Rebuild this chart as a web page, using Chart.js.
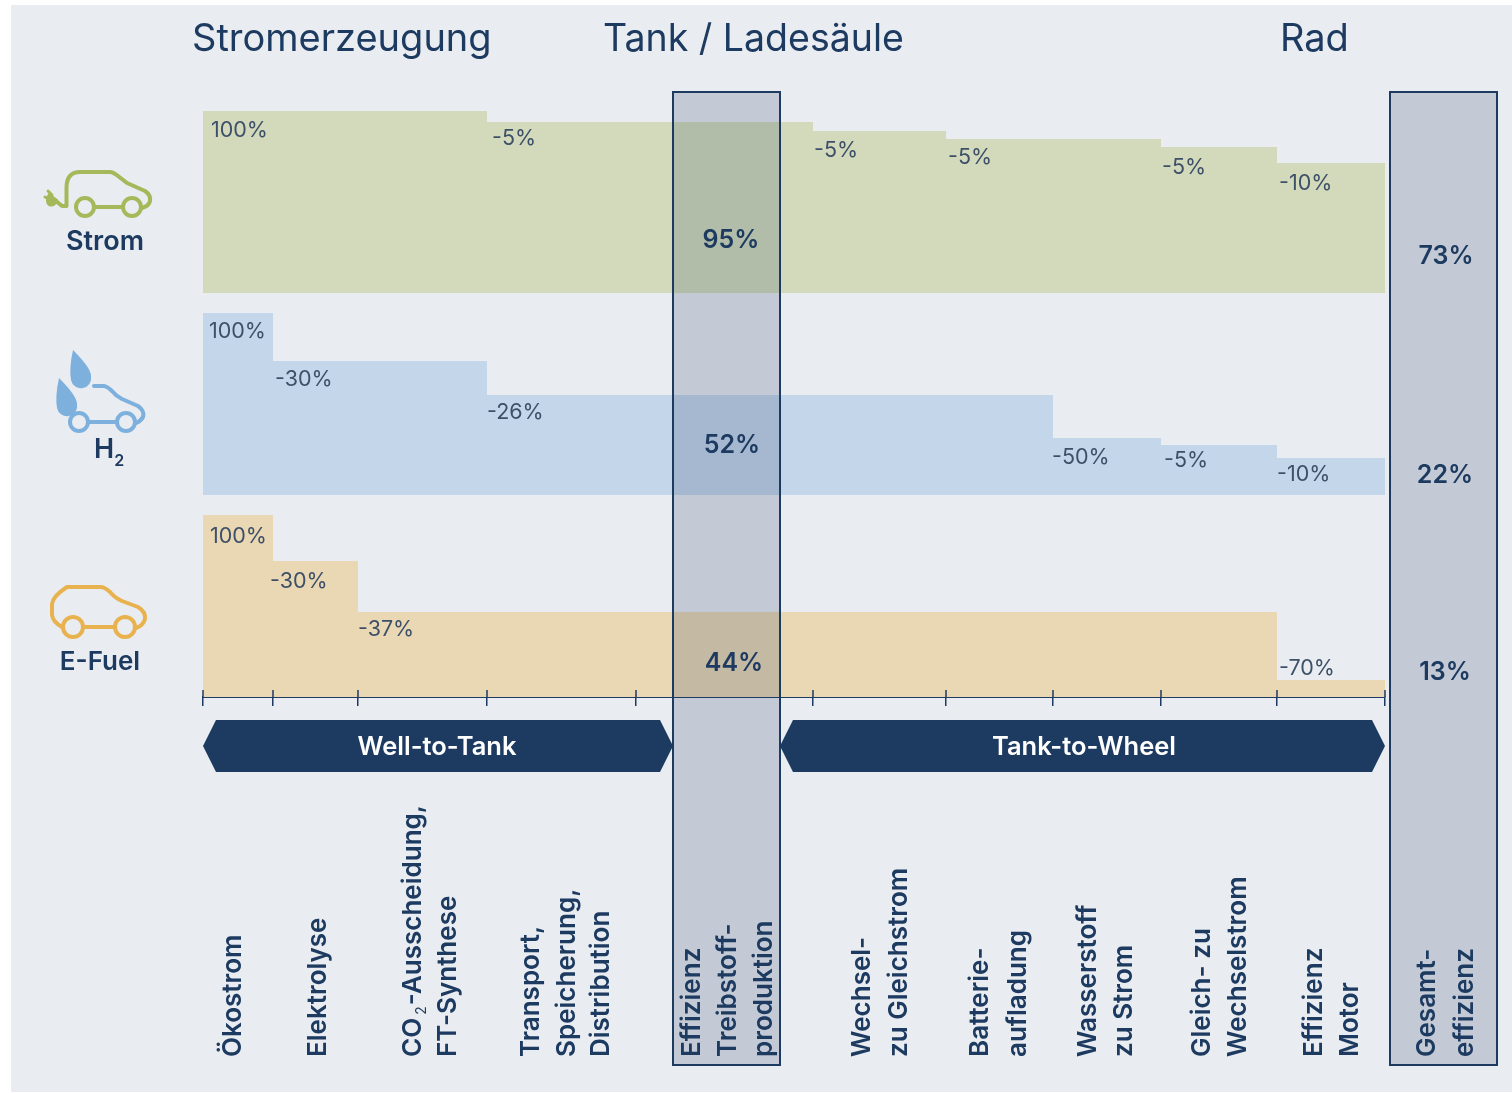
<!DOCTYPE html>
<html lang="de">
<head>
<meta charset="utf-8">
<title>Wirkungsgrade Strom, H2, E-Fuel</title>
<script src="https://cdn.jsdelivr.net/npm/chart.js@4/dist/chart.umd.min.js"></script>
<style>
    html, body { margin: 0; padding: 0; background: #fff; }
    #stage { position: relative; width: 1512px; height: 1093px; overflow: hidden; }
    canvas { display: block; }
    svg { position: absolute; left: 0; top: 0; pointer-events: none; }
</style>
</head>
<body>
<div id="stage">
    <canvas id="chart" width="1512" height="1093"></canvas>
    <svg width="1512" height="1093" fill="none" stroke-width="4" stroke-linecap="round" stroke-linejoin="round">
        <!-- Strom -->
        <g stroke="#a5b85a">
            <path d="M56 201 L62 206 L66.5 206 L66.5 187 Q67 172 80 172 L110 172 Q113 172 118 176 L127 183 L145 191 Q151 195 150 201 Q149 206 142 208"/>
            <circle cx="85" cy="207" r="9"/><circle cx="132" cy="207" r="9"/>
            <path d="M94 207 L123 207"/>
            <path d="M49 194 L57 200 Q55 207 49 205 Q45 202 49 194 Z" fill="#a5b85a" stroke-width="2"/>
            <path d="M45 197 L49 199 M48 191 L52 195" stroke-width="3"/>
        </g>
        <!-- H2 -->
        <g stroke="#7db0dc">
            <path d="M94 386 L103 386 Q107 386 112 391 Q116 396 122 399 L138 406 Q145 411 143 417 Q141 421 136 423"/>
            <circle cx="79" cy="422" r="9"/><circle cx="126" cy="422" r="9"/>
            <path d="M88 422 L117 422"/>
            <path d="M73 350 Q91 368 91 376 A10 10 0 0 1 71 380 Q69 368 73 350 Z" fill="#7db0dc" stroke="none"/>
            <path d="M59 378 Q77 396 77 404 A10 10 0 0 1 57 408 Q55 396 59 378 Z" fill="#7db0dc" stroke="none"/>
        </g>
        <!-- E-Fuel -->
        <g stroke="#e8b24f">
            <path d="M62 627 Q53 622 52 615 L52 604 Q53 596 67 587 L100 587 Q105 587 110 592 Q115 598 122 601 L138 607 Q146 612 145 619 Q143 626 136 628"/>
            <circle cx="73" cy="627" r="10"/><circle cx="125" cy="627" r="10"/>
            <path d="M83 627 L115 627"/>
        </g>
    </svg>
</div>
<script>
// Step edges along the x axis (one edge per process step, plus the end)
const stepEdges = [0, 70, 155, 284, 433, 610, 743, 850, 958, 1074, 1182];

// Remaining share per process step, as drawn in the picture
const stromValues = [100, 100, 100, 94, 94, 89, 84.6, 84.6, 80.2, 71.4];
const h2Values = [100, 73.6, 73.6, 55, 55, 55, 55, 31.3, 27.5, 20.3];
const efuelValues = [100, 74.7, 46.7, 46.7, 46.7, 46.7, 46.7, 46.7, 46.7, 9.3];

// Percent labels printed on the steps: [step index, text]
const stromLabels = [[0, '100%'], [3, '-5%'], [5, '-5%'], [6, '-5%'], [8, '-5%'], [9, '-10%']];
const h2Labels = [[0, '100%'], [1, '-30%'], [3, '-26%'], [7, '-50%'], [8, '-5%'], [9, '-10%']];
const efuelLabels = [[0, '100%'], [1, '-30%'], [2, '-37%'], [9, '-70%']];

const rowNames = ['Strom', 'H₂', 'E-Fuel'];
const tankEfficiency = ['95%', '52%', '44%'];
const totalEfficiency = ['73%', '22%', '13%'];
const columnTitles = ['Stromerzeugung', 'Tank / Ladesäule', 'Rad'];
const phaseNames = ['Well-to-Tank', 'Tank-to-Wheel'];

const stepNames = [
    ['Ökostrom'],
    ['Elektrolyse'],
    ['CO₂-Ausscheidung,', 'FT-Synthese'],
    ['Transport,', 'Speicherung,', 'Distribution'],
    ['Effizienz', 'Treibstoff-', 'produktion'],
    ['Wechsel-', 'zu Gleichstrom'],
    ['Batterie-', 'aufladung'],
    ['Wasserstoff', 'zu Strom'],
    ['Gleich- zu', 'Wechselstrom'],
    ['Effizienz', 'Motor'],
    ['Gesamt-', 'effizienz']
];

// Colours
const NAVY = '#1d3a60';
const TEXT_SOFT = '#3d5068';
const PANEL = '#e9ecf0';
const BAND = 'rgba(30, 58, 95, 0.19)';
const FONT = 'Inter, "Liberation Sans", sans-serif';

// Layout of the things around the plot
const plot = { left: 203, right: 1385, top: 91, bottom: 697 };
const tankBand = [470, 577];
const totalBand = [1187, 1294];
const bandTop = 92;
const bandBottom = 1065;
const arrowTop = 720;
const arrowBottom = 772;
const stepNameX = [
    [233], [318], [413, 448], [531, 567, 601], [692, 728, 764],
    [862, 899], [980, 1018], [1088, 1124], [1202, 1238], [1314, 1350], [1427, 1465]
];
// label offsets from the top-left corner of their step: [dx, dy]
const stromNudges = [[8, 20], [5, 17], [1, 19], [2, 18], [1, 20], [2, 20]];
const h2Nudges = [[6, 19], [2, 18], [0, 18], [-1, 19], [3, 16], [0, 16]];
const efuelNudges = [[7, 22], [-3, 20], [0, 18], [2, -12]];

function toPoints(values) {
    const points = values.map((v, i) => ({ x: stepEdges[i], y: v }));
    points.push({ x: stepEdges[stepEdges.length - 1], y: values[values.length - 1] });
    return points;
}

function rowDataset(label, values, colour, axis) {
    return {
        label: label,
        data: toPoints(values),
        yAxisID: axis,
        stepped: 'before',
        fill: { value: 0 },
        backgroundColor: colour,
        borderWidth: 0,
        pointRadius: 0
    };
}

function rowAxis(order) {
    return {
        display: false,
        stack: 'rows',
        stackWeight: 1,
        weight: order,
        min: 0,
        max: 111,
        afterFit: scale => { scale.width = 0; }
    };
}

function drawText(ctx, text, x, y, font, colour, align) {
    ctx.font = font;
    ctx.fillStyle = colour;
    ctx.textAlign = align || 'left';
    ctx.textBaseline = 'middle';
    ctx.fillText(text, x, y);
}

// Text with a lowered "2": the ₂ in the string marks where it goes
function drawWithSub(ctx, text, x, y, font, colour, sub) {
    const parts = text.split('₂');
    drawText(ctx, parts[0], x, y, font, colour);
    let cursor = x + ctx.measureText(parts[0]).width + sub.before;
    drawText(ctx, '2', cursor, y + sub.drop, sub.font, colour);
    cursor += ctx.measureText('2').width + sub.after;
    if (parts[1]) drawText(ctx, parts[1], cursor, y, font, colour);
}

// Everything that sits on top of the step areas
const overlayPlugin = {
    id: 'overlay',
    beforeDraw(chart) {
        const ctx = chart.ctx;
        ctx.save();
        ctx.fillStyle = PANEL;
        ctx.fillRect(11, 5, 1501, 1087);
        ctx.restore();
    },
    afterDraw(chart) {
        const ctx = chart.ctx;
        const x = chart.scales.x;
        ctx.save();

        // upper half of the axis ticks
        ctx.strokeStyle = NAVY;
        ctx.lineWidth = 1.5;
        stepEdges.forEach(edge => {
            const px = x.getPixelForValue(edge);
            ctx.beginPath();
            ctx.moveTo(px, plot.bottom - 7);
            ctx.lineTo(px, plot.bottom);
            ctx.stroke();
        });

        // translucent efficiency columns
        [tankBand, totalBand].forEach(band => {
            const x0 = x.getPixelForValue(band[0]);
            const x1 = x.getPixelForValue(band[1]);
            ctx.fillStyle = BAND;
            ctx.fillRect(x0, bandTop, x1 - x0, bandBottom - bandTop);
            ctx.strokeStyle = NAVY;
            ctx.lineWidth = 2;
            ctx.strokeRect(x0, bandTop, x1 - x0, bandBottom - bandTop);
        });

        // phase arrows
        const arrowY = (arrowTop + arrowBottom) / 2;
        [[0, tankBand[0]], [tankBand[1], stepEdges[stepEdges.length - 1]]].forEach((span, i) => {
            const x0 = x.getPixelForValue(span[0]);
            const x1 = x.getPixelForValue(span[1]);
            ctx.fillStyle = NAVY;
            ctx.beginPath();
            ctx.moveTo(x0, arrowY);
            ctx.lineTo(x0 + 13, arrowTop);
            ctx.lineTo(x1 - 13, arrowTop);
            ctx.lineTo(x1, arrowY);
            ctx.lineTo(x1 - 13, arrowBottom);
            ctx.lineTo(x0 + 13, arrowBottom);
            ctx.closePath();
            ctx.fill();
            const centre = i === 0 ? 437 : 1084;
            drawText(ctx, phaseNames[i], centre, arrowY + 1, '600 25.5px ' + FONT, '#ffffff', 'center');
        });

        // percent labels on the steps
        const rows = [
            [stromLabels, stromValues, chart.scales.yStrom, stromNudges],
            [h2Labels, h2Values, chart.scales.yH2, h2Nudges],
            [efuelLabels, efuelValues, chart.scales.yEfuel, efuelNudges]
        ];
        rows.forEach(row => {
            row[0].forEach((item, i) => {
                const step = item[0];
                const px = x.getPixelForValue(stepEdges[step]) + row[3][i][0];
                const py = row[2].getPixelForValue(row[1][step]) + row[3][i][1];
                drawText(ctx, item[1], px, py, '400 21.5px ' + FONT, TEXT_SOFT);
            });
        });

        // column values
        const tankX = [731, 732, 734];
        const tankY = [240, 445, 663];
        const totalX = [1446, 1445, 1445];
        const totalY = [256, 475, 672];
        tankEfficiency.forEach((text, i) => {
            drawText(ctx, text, tankX[i], tankY[i], '600 25px ' + FONT, NAVY, 'center');
        });
        totalEfficiency.forEach((text, i) => {
            drawText(ctx, text, totalX[i], totalY[i], '600 25px ' + FONT, NAVY, 'center');
        });

        // header
        const titleX = [192, 603, 1280];
        const titleSize = [38, 37.5, 38];
        columnTitles.forEach((text, i) => {
            drawText(ctx, text, titleX[i], 40, '400 ' + titleSize[i] + 'px ' + FONT, NAVY);
        });

        // fuel names below the icons
        drawText(ctx, rowNames[0], 105, 242, '600 27px ' + FONT, NAVY, 'center');
        drawWithSub(ctx, rowNames[1], 94, 450, '600 27px ' + FONT, NAVY,
            { before: 0, after: 0, drop: 11, font: '600 16px ' + FONT });
        drawText(ctx, rowNames[2], 100, 662, '600 26px ' + FONT, NAVY, 'center');

        // rotated step names
        const stepFont = '600 26px ' + FONT;
        stepNames.forEach((lines, i) => {
            lines.forEach((line, j) => {
                ctx.save();
                ctx.translate(stepNameX[i][j], 1057);
                ctx.rotate(-Math.PI / 2);
                if (line.includes('₂')) {
                    drawWithSub(ctx, line, 0, 0, stepFont, NAVY,
                        { before: 3, after: 1, drop: 9, font: '400 14px ' + FONT });
                } else {
                    drawText(ctx, line, 0, 0, stepFont, NAVY);
                }
                ctx.restore();
            });
        });

        ctx.restore();
    }
};

new Chart(document.getElementById('chart'), {
    type: 'line',
    data: {
        datasets: [
            rowDataset('Strom', stromValues, '#d3dabb', 'yStrom'),
            rowDataset('H2', h2Values, '#c4d6ea', 'yH2'),
            rowDataset('E-Fuel', efuelValues, '#ead7b3', 'yEfuel')
        ]
    },
    options: {
        responsive: false,
        animation: false,
        layout: {
            padding: {
                left: plot.left,
                right: 1512 - plot.right,
                top: plot.top,
                bottom: 1093 - plot.bottom
            }
        },
        plugins: {
            legend: { display: false },
            tooltip: { enabled: false }
        },
        scales: {
            x: {
                type: 'linear',
                min: stepEdges[0],
                max: stepEdges[stepEdges.length - 1],
                z: 1,
                afterBuildTicks: scale => { scale.ticks = stepEdges.map(v => ({ value: v })); },
                afterFit: scale => { scale.height = 0; },
                ticks: { display: false, autoSkip: false },
                grid: { drawOnChartArea: false, color: NAVY, lineWidth: 1.5, tickLength: 9 },
                border: { color: NAVY, width: 2 }
            },
            yStrom: rowAxis(3),
            yH2: rowAxis(2),
            yEfuel: rowAxis(1)
        }
    },
    plugins: [overlayPlugin]
});
</script>
</body>
</html>
